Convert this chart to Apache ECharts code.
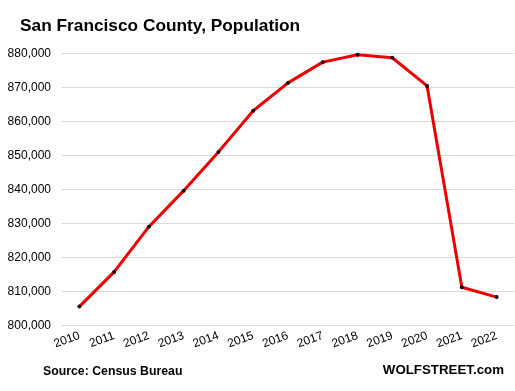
<!DOCTYPE html>
<html><head><meta charset="utf-8">
<script src="https://cdn.jsdelivr.net/npm/echarts@6/dist/echarts.min.js"></script>
<style>html,body{margin:0;padding:0;background:#fff}#c{width:515px;height:391px}</style>
</head><body><div id="c"></div>
<script>
const years = ['2010','2011','2012','2013','2014','2015','2016','2017','2018','2019','2020','2021','2022'];
const population = [805500, 815700, 829000, 839600, 851000, 863100, 871300, 877400, 879600, 878700, 870400, 811200, 808300];
const yTicks = [800000, 810000, 820000, 830000, 840000, 850000, 860000, 870000, 880000];

const chart = echarts.init(document.getElementById('c'), null, {renderer: 'canvas'});
const font = 'Liberation Sans, Arial, sans-serif';
chart.setOption({
  animation: false,
  backgroundColor: '#fff',
  grid: {left: 62, right: 1, top: 53.3, bottom: 65.7, containLabel: false},
  title: [
    {text: 'San Francisco County, Population', left: 15, top: 13,
     textStyle: {fontFamily: font, fontWeight: 'bold', fontSize: 17.3, color: '#000'}},
  ],
  graphic: [
    {type: 'text', left: 43, top: 366, style: {text: 'Source: Census Bureau', font: 'bold 12.3px ' + font, fill: '#000'}},
    {type: 'text', right: 11, top: 364, style: {text: 'WOLFSTREET.com', font: 'bold 13.3px ' + font, fill: '#000'}}
  ],
  xAxis: {
    type: 'category', data: years, boundaryGap: true,
    axisLine: {show: true, lineStyle: {color: '#d9d9d9'}},
    axisTick: {show: false},
    axisLabel: {rotate: 20, margin: 10, fontFamily: font, fontSize: 12, color: '#000', interval: 0}
  },
  yAxis: {
    type: 'value', min: yTicks[0], max: yTicks[yTicks.length - 1], interval: 10000,
    axisLine: {show: false}, axisTick: {show: false},
    splitLine: {lineStyle: {color: '#d9d9d9', width: 1}},
    axisLabel: {margin: 11, fontFamily: font, fontSize: 12, color: '#000',
      formatter: v => v.toLocaleString('en-US')}
  },
  series: [{
    type: 'line', data: population,
    lineStyle: {color: '#ee0000', width: 3},
    symbol: 'circle', symbolSize: 4,
    itemStyle: {color: '#111', borderWidth: 0},
    z: 3
  }]
});
</script></body></html>
